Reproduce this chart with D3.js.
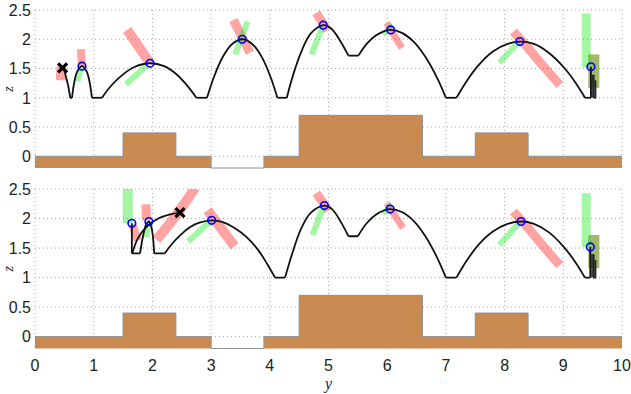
<!DOCTYPE html>
<html>
<head>
<meta charset="utf-8">
<script src="https://cdn.jsdelivr.net/npm/d3@7"></script>
<style>
  body { margin: 0; background: #fff; }
  text { font-family: "Liberation Sans", Arial, sans-serif; }
</style>
</head>
<body>
<script>
// Axis ticks
const xTicks = d3.range(0, 11);
const zTicks = [0, 0.5, 1, 1.5, 2, 2.5];

// Terrain: step edges along y and height of each step
const stepEdges = [0, 1.5, 2.4, 3.0, 3.9, 4.5, 6.6, 7.5, 8.4, 10];
const stepHeights = [0, 0.4, 0, -0.2, 0, 0.7, 0, 0.4, 0];

// Top panel: hopping trajectory pieces (y, z)
const topTrack = [
  [[0.49, 1.5], [0.53, 1.35], [0.57, 1.18], [0.6, 1.0]],
  [[0.6, 1.0], [0.63, 1.0]],
  [[0.63, 1], [0.67, 1.27], [0.72, 1.45], [0.8, 1.54], [0.88, 1.45], [0.93, 1.27], [0.97, 1]],
  [[0.97, 1], [1.14, 1]],
  [[1.14, 1], [1.3, 1.21], [1.5, 1.4], [1.7, 1.53], [1.96, 1.59], [2.2, 1.54], [2.4, 1.41], [2.6, 1.2], [2.75, 1]],
  [[2.75, 1], [2.93, 1]],
  [[2.93, 1], [3.05, 1.36], [3.2, 1.7], [3.35, 1.91], [3.53, 2.0], [3.7, 1.92], [3.85, 1.72], [4.0, 1.39], [4.13, 1]],
  [[4.13, 1], [4.29, 1]],
  [[4.29, 1], [4.4, 1.4], [4.55, 1.82], [4.7, 2.1], [4.91, 2.24], [5.05, 2.18], [5.2, 1.97], [5.34, 1.72]],
  [[5.34, 1.72], [5.51, 1.72]],
  [[5.51, 1.72], [5.65, 1.92], [5.8, 2.06], [5.95, 2.14], [6.06, 2.16], [6.25, 2.11], [6.45, 1.96], [6.65, 1.7], [6.85, 1.34], [7.0, 1]],
  [[7.0, 1], [7.18, 1]],
  [[7.18, 1], [7.35, 1.28], [7.55, 1.55], [7.8, 1.79], [8.05, 1.92], [8.26, 1.96], [8.5, 1.92], [8.75, 1.77], [9.0, 1.53], [9.2, 1.27], [9.37, 1]],
  [[9.37, 1], [9.47, 1]],
  [[9.47, 1], [9.47, 1.53]]
];
const topJumble = [[9.49, 1], [9.49, 1.38], [9.52, 1.38], [9.52, 1], [9.55, 1], [9.55, 1.3]];
const topPeaks = [[0.8, 1.54], [1.96, 1.59], [3.53, 2.0], [4.91, 2.24], [6.06, 2.16], [8.26, 1.96], [9.47, 1.53]];
const topCrosses = [[0.47, 1.51]];
// [points, width]
const topPink = [
  [[[0.45, 1.53], [0.44, 1.3]], 10],
  [[[0.78, 1.83], [0.8, 1.53]], 8],
  [[[1.57, 2.16], [1.96, 1.59]], 10],
  [[[3.38, 2.33], [3.66, 1.77]], 9],
  [[[4.79, 2.45], [4.98, 2.15]], 9],
  [[[5.99, 2.28], [6.25, 1.85]], 7],
  [[[8.15, 2.13], [8.4, 1.85], [8.66, 1.54], [8.94, 1.22]], 9],
  [[[9.52, 1.74], [9.52, 1.17]], 11]
];
const topGreen = [
  [[[0.8, 1.52], [0.73, 1.28]], 5],
  [[[1.9, 1.55], [1.78, 1.44], [1.55, 1.23]], 6],
  [[[3.62, 2.3], [3.41, 1.74]], 6],
  [[[4.9, 2.22], [4.71, 1.74]], 6],
  [[[6.08, 2.25], [5.93, 2.08]], 5],
  [[[8.24, 1.95], [7.91, 1.6]], 6],
  [[[9.39, 2.44], [9.39, 1.52]], 9],
  [[[9.52, 1.74], [9.52, 1.17]], 11]
];

// Bottom panel
const botTrack = [
  [[1.65, 1.92], [1.65, 1.41]],
  [[1.65, 1.41], [1.79, 1.41]],
  [[1.79, 1.41], [1.84, 1.7], [1.89, 1.89], [1.94, 1.95], [1.98, 1.87], [2.01, 1.68], [2.03, 1.41]],
  [[2.03, 1.41], [2.21, 1.41]],
  [[2.21, 1.41], [2.35, 1.59], [2.5, 1.74], [2.65, 1.86], [2.8, 1.93], [3.01, 1.97], [3.2, 1.94], [3.4, 1.84], [3.6, 1.69], [3.8, 1.47], [3.95, 1.24], [4.09, 1]],
  [[4.09, 1], [4.26, 1]],
  [[4.26, 1], [4.38, 1.4], [4.53, 1.82], [4.7, 2.1], [4.93, 2.22], [5.06, 2.16], [5.2, 1.96], [5.34, 1.7]],
  [[5.34, 1.7], [5.5, 1.7]],
  [[5.5, 1.7], [5.65, 1.92], [5.8, 2.06], [5.95, 2.14], [6.05, 2.16], [6.25, 2.11], [6.45, 1.96], [6.65, 1.7], [6.85, 1.34], [7.0, 1]],
  [[7.0, 1], [7.18, 1]],
  [[7.18, 1], [7.35, 1.28], [7.55, 1.55], [7.8, 1.78], [8.05, 1.91], [8.28, 1.95], [8.5, 1.91], [8.75, 1.77], [9.0, 1.53], [9.2, 1.27], [9.37, 1]],
  [[9.37, 1], [9.46, 1]],
  [[9.46, 1], [9.46, 1.52]],
  [[1.66, 1.42], [1.75, 1.66], [1.9, 1.86], [2.1, 2.0], [2.3, 2.07], [2.47, 2.1]]
];
const botJumble = [[9.49, 1], [9.49, 1.38], [9.52, 1.38], [9.52, 1], [9.55, 1], [9.55, 1.3]];
const botPeaks = [[1.65, 1.92], [1.94, 1.95], [3.01, 1.97], [4.93, 2.22], [6.05, 2.16], [8.28, 1.95], [9.46, 1.52]];
const botCrosses = [[2.47, 2.1]];
const botPink = [
  [[[1.66, 1.9], [1.75, 1.63]], 8],
  [[[1.89, 2.24], [1.9, 1.97]], 9],
  [[[2.07, 1.64], [2.4, 2.05], [2.73, 2.52]], 10],
  [[[2.94, 2.14], [3.4, 1.53]], 10],
  [[[4.79, 2.43], [5.0, 2.14]], 9],
  [[[5.99, 2.26], [6.27, 1.84]], 7],
  [[[8.15, 2.12], [8.4, 1.84], [8.66, 1.53], [8.94, 1.21]], 9],
  [[[9.52, 1.72], [9.52, 1.16]], 11]
];
const botGreen = [
  [[[1.58, 2.52], [1.58, 1.92]], 10],
  [[[1.93, 1.93], [1.9, 1.68]], 6],
  [[[2.98, 1.95], [2.61, 1.61]], 6],
  [[[4.91, 2.2], [4.73, 1.72]], 6],
  [[[6.07, 2.24], [5.93, 2.08]], 5],
  [[[8.26, 1.94], [7.91, 1.55]], 6],
  [[[9.39, 2.43], [9.39, 1.52]], 9],
  [[[9.52, 1.72], [9.52, 1.16]], 11]
];

const W = 631, H = 394;
const svg = d3.select("body").append("svg")
  .attr("width", W).attr("height", H);

const x = d3.scaleLinear().domain([0, 10]).range([35, 622]);

const terrain = stepEdges.map((e, i) => [e, stepHeights[Math.min(i, stepHeights.length - 1)]]);

function panel(top, bottom, track, jumble, peaks, crosses, pink, green, showX, id) {
  const z = d3.scaleLinear().domain([-0.2, 2.5]).range([bottom, top]);
  const g = svg.append("g");

  g.append("clipPath").attr("id", id)
    .append("rect").attr("x", x(0)).attr("y", top).attr("width", x(10) - x(0)).attr("height", bottom - top);

  // grid
  g.selectAll(".vg").data(xTicks).enter().append("line")
    .attr("x1", d => x(d)).attr("x2", d => x(d))
    .attr("y1", top).attr("y2", bottom)
    .attr("stroke", "#a8a8a8").attr("stroke-dasharray", "1,3");
  g.selectAll(".hg").data(zTicks).enter().append("line")
    .attr("x1", x(0)).attr("x2", x(10))
    .attr("y1", d => z(d)).attr("y2", d => z(d))
    .attr("stroke", "#a8a8a8").attr("stroke-dasharray", "1,3");

  // terrain
  const area = d3.area().x(d => x(d[0])).y0(z(-0.2)).y1(d => z(d[1])).curve(d3.curveStepAfter);
  g.append("path").attr("d", area(terrain)).attr("fill", "#c98a52");
  g.append("path").attr("d", d3.line().x(d => x(d[0])).y(d => z(d[1])).curve(d3.curveStepAfter)(terrain))
    .attr("fill", "none").attr("stroke", "#8e8e8e").attr("stroke-width", 1);

  const cg = g.append("g").attr("clip-path", `url(#${id})`);
  const lin = d3.line().x(d => x(d[0])).y(d => z(d[1]));
  const crv = d3.line().x(d => x(d[0])).y(d => z(d[1])).curve(d3.curveCatmullRom);

  // pink & green bands
  pink.forEach(([pts, w]) => {
    cg.append("path").attr("d", (pts.length > 2 ? crv : lin)(pts))
      .attr("fill", "none").attr("stroke", "rgb(255,0,0)").attr("stroke-opacity", 0.36)
      .attr("stroke-width", w);
  });
  green.forEach(([pts, w]) => {
    cg.append("path").attr("d", (pts.length > 2 ? crv : lin)(pts))
      .attr("fill", "none").attr("stroke", "rgb(0,230,0)").attr("stroke-opacity", 0.36)
      .attr("stroke-width", w);
  });

  // trajectory
  track.forEach(pts => {
    cg.append("path").attr("d", (pts.length > 2 ? crv : lin)(pts))
      .attr("fill", "none").attr("stroke", "#111").attr("stroke-width", 1.8)
      .attr("stroke-linejoin", "round");
  });
  cg.append("path").attr("d", lin(jumble))
    .attr("fill", "none").attr("stroke", "#222").attr("stroke-width", 1.6);

  // peak markers
  cg.selectAll(".pk").data(peaks).enter().append("circle")
    .attr("cx", d => x(d[0])).attr("cy", d => z(d[1])).attr("r", 3.8)
    .attr("fill", "none").attr("stroke", "#0000ff").attr("stroke-width", 1.6);

  // crosses
  crosses.forEach(d => {
    const cx = x(d[0]), cy = z(d[1]), s = 4.5;
    cg.append("path")
      .attr("d", `M${cx - s},${cy - s}L${cx + s},${cy + s}M${cx - s},${cy + s}L${cx + s},${cy - s}`)
      .attr("stroke", "#000").attr("stroke-width", 3.2);
  });

  // z tick labels
  g.selectAll(".zl").data(zTicks).enter().append("text")
    .attr("x", 31).attr("y", d => z(d)).attr("dy", "0.36em")
    .attr("text-anchor", "end").attr("font-size", 16).attr("fill", "#222")
    .text(d => d);

  // z label
  g.append("text")
    .attr("transform", `translate(9,${(top + bottom) / 2}) rotate(-90)`)
    .attr("text-anchor", "middle").attr("dy", "0.3em")
    .style("font-family", "'Liberation Serif', serif").style("font-style", "italic")
    .attr("font-size", 14).attr("fill", "#222").text("z");

  if (showX) {
    g.selectAll(".xl").data(xTicks).enter().append("text")
      .attr("x", d => x(d)).attr("y", 371)
      .attr("text-anchor", "middle").attr("font-size", 16).attr("fill", "#222")
      .text(d => d);
    g.append("text").attr("x", x(5)).attr("y", 389).attr("text-anchor", "middle")
      .style("font-family", "'Liberation Serif', serif").style("font-style", "italic")
      .attr("font-size", 16).attr("fill", "#222").text("y");
  }
}

panel(10, 168, topTrack, topJumble, topPeaks, topCrosses, topPink, topGreen, false, "clipTop");
panel(189, 348.5, botTrack, botJumble, botPeaks, botCrosses, botPink, botGreen, true, "clipBot");
</script>
</body>
</html>
